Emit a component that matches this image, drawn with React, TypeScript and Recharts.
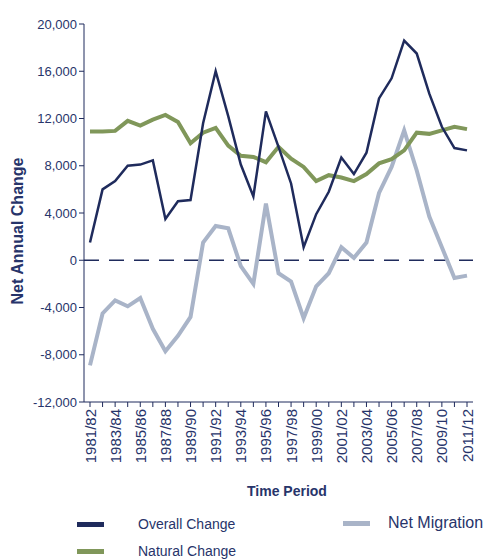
import { LineChart, Line, XAxis, YAxis, ReferenceLine, Legend } from "recharts";

const PERIODS = [
  "1981/82", "1982/83", "1983/84", "1984/85", "1985/86", "1986/87", "1987/88", "1988/89",
  "1989/90", "1990/91", "1991/92", "1992/93", "1993/94", "1994/95", "1995/96", "1996/97",
  "1997/98", "1998/99", "1999/00", "2000/01", "2001/02", "2002/03", "2003/04", "2004/05",
  "2005/06", "2006/07", "2007/08", "2008/09", "2009/10", "2010/11", "2011/12",
];

const OVERALL = [
  1500, 6000, 6700, 8000, 8100, 8450, 3500, 5000, 5100, 11600, 16000, 12200, 8100, 5400, 12600, 9600,
  6500, 1100, 3900, 5800, 8700, 7300, 9100, 13700, 15400, 18600, 17500, 14100, 11300, 9500, 9300,
];

const NATURAL = [
  10900, 10900, 10950, 11800, 11400, 11900, 12300, 11700, 9900, 10800, 11200, 9700, 8850, 8750, 8300, 9600,
  8600, 7900, 6700, 7200, 7000, 6700, 7300, 8200, 8550, 9300, 10800, 10700, 11000, 11300, 11100,
];

const MIGRATION = [
  -8900, -4500, -3400, -3900, -3200, -5800, -7700, -6400, -4800, 1500, 2900, 2700, -500, -2000, 4800, -1100,
  -1800, -4900, -2200, -1100, 1100, 200, 1500, 5700, 7900, 11000, 7600, 3700, 1100, -1500, -1300,
];

const Y_TICKS = [-12000, -8000, -4000, 0, 4000, 8000, 12000, 16000, 20000];

const data = PERIODS.map((p, i) => ({
  period: p,
  overall: OVERALL[i],
  natural: NATURAL[i],
  migration: MIGRATION[i],
}));

const NAVY = "#1f2b5c";
const TEXT = "#27346a";
const GREEN = "#80975a";
const GREY = "#a9b4c8";
const FONT = "'Liberation Sans', Arial, sans-serif";

const XTick = ({ x, y, payload }: any) => {
  const idx = PERIODS.indexOf(payload.value);
  if (idx % 2 !== 0) return null;
  return (
    <text
      x={x}
      y={y}
      transform={`rotate(-90 ${x} ${y})`}
      textAnchor="end"
      dominantBaseline="central"
      fill={TEXT}
      fontSize={15}
      fontFamily={FONT}
    >
      {payload.value}
    </text>
  );
};

const LegendBox = () => {
  const item = (color: string, label: string, left: number, top: number, size = 14) => (
    <div style={{ position: "absolute", left, top, display: "flex", alignItems: "center" }}>
      <div style={{ width: 27, height: 5, background: color }} />
      <span style={{ marginLeft: label === "Net Migration" ? 18 : 34, fontSize: size, color: TEXT, fontFamily: FONT, whiteSpace: "nowrap" }}>
        {label}
      </span>
    </div>
  );
  return (
    <div style={{ position: "relative", width: 485, height: 50 }}>
      {item(NAVY, "Overall Change", 77, 6)}
      {item(GREY, "Net Migration", 343, 4, 16)}
      {item(GREEN, "Natural Change", 77, 33)}
    </div>
  );
};

export default function App() {
  return (
    <div style={{ position: "absolute", left: 0, top: 0, background: "#fff" }}>
      <LineChart width={485} height={560} data={data} margin={{ top: 24, right: 12, left: 0, bottom: 58 }}>
        <XAxis
          dataKey="period"
          interval={0}
          height={100}
          padding={{ left: 6, right: 6 }}
          tick={<XTick />}
          tickSize={5}
          stroke={NAVY}
          tickLine={{ stroke: NAVY }}
          label={{
            content: () => (
              <text x={287} y={491} textAnchor="middle" dominantBaseline="central" fill={TEXT} fontSize={14} fontWeight="bold" fontFamily={FONT}>
                Time Period
              </text>
            ),
          }}
        />
        <YAxis
          width={84}
          domain={[-12000, 20000]}
          ticks={Y_TICKS}
          interval={0}
          tickSize={5}
          stroke={NAVY}
          tick={{ fill: TEXT, fontSize: 13, fontFamily: FONT }}
          tickFormatter={(v: number) => v.toLocaleString("en-US")}
          label={{
            content: () => (
              <text x={17} y={231} transform="rotate(-90 17 231)" textAnchor="middle" dominantBaseline="central" fill={TEXT} fontSize={16} fontWeight="bold" fontFamily={FONT}>
                Net Annual Change
              </text>
            ),
          }}
        />
        <ReferenceLine y={0} stroke={NAVY} strokeWidth={1.5} strokeDasharray="15 10" />
        <Line dataKey="migration" stroke={GREY} strokeWidth={4} dot={false} isAnimationActive={false} strokeLinejoin="miter" />
        <Line dataKey="natural" stroke={GREEN} strokeWidth={4} dot={false} isAnimationActive={false} strokeLinejoin="miter" />
        <Line dataKey="overall" stroke={NAVY} strokeWidth={2.5} dot={false} isAnimationActive={false} strokeLinejoin="miter" />
        <Legend
          layout="horizontal"
          verticalAlign="middle"
          align="center"
          content={<LegendBox />}
          wrapperStyle={{ top: 510, left: 0, width: 485, height: 50 }}
        />
      </LineChart>
    </div>
  );
}
